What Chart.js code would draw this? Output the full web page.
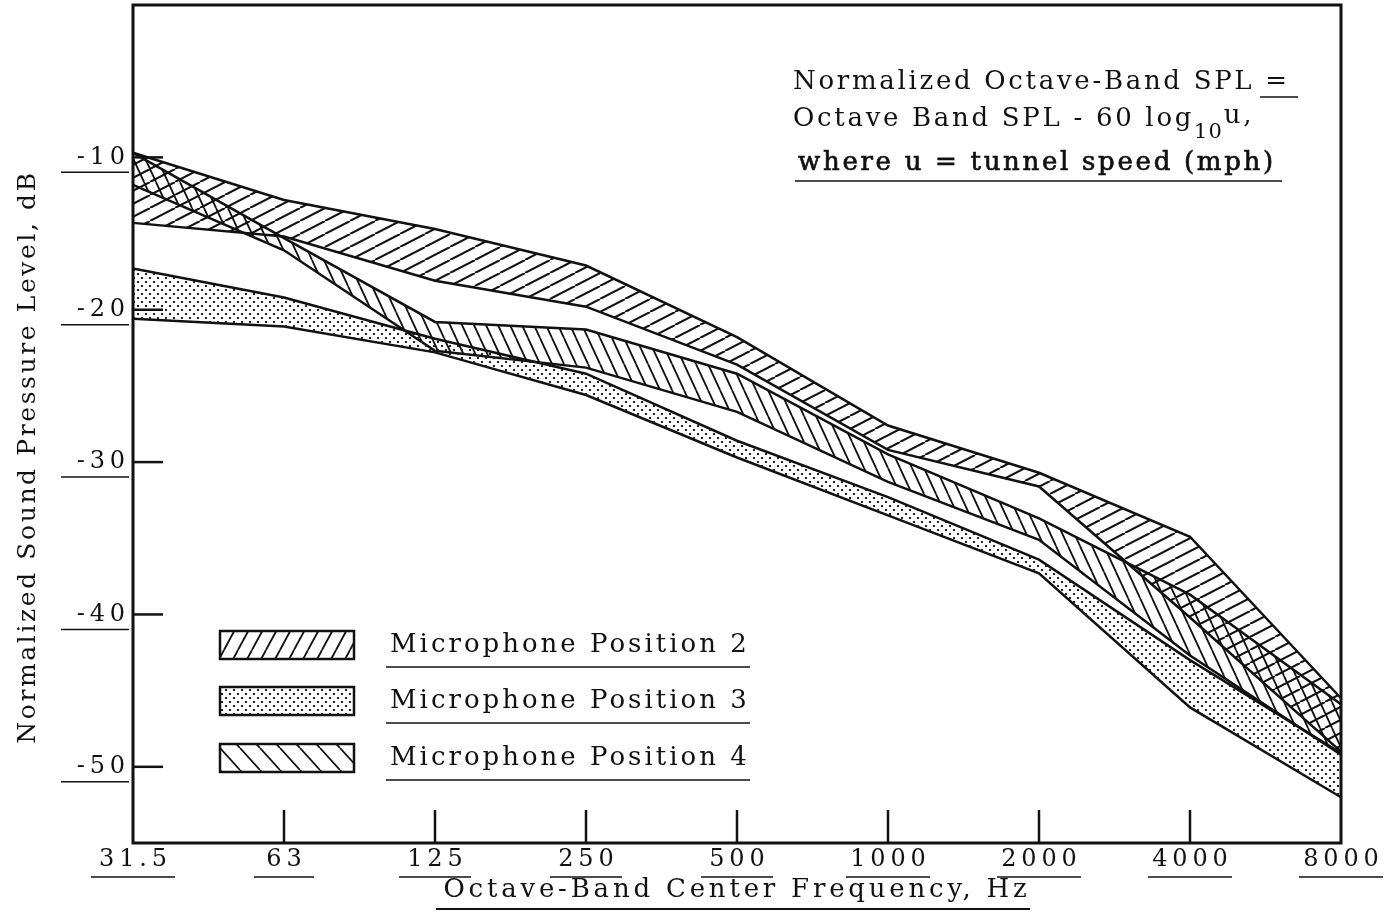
<!DOCTYPE html>
<html>
<head>
<meta charset="utf-8">
<script src="https://cdn.jsdelivr.net/npm/chart.js@4.4.1/dist/chart.umd.min.js"></script>
<style>
  html, body { margin: 0; padding: 0; background: #fff; }
  #wrap { width: 1386px; height: 918px; }
</style>
</head>
<body>
<div id="wrap"><canvas id="chart" width="1386" height="918"></canvas></div>
<script>
// octave band centre frequencies (Hz)
const freqLabels = ['31.5', '63', '125', '250', '500', '1000', '2000', '4000', '8000']
const yTickValues = [-10, -20, -30, -40, -50]

// band limits, normalized SPL in dB
const mic2Upper = [-9.7, -12.8, -14.7, -17.1, -21.8, -27.6, -30.7, -34.9, -45.5]
const mic2Lower = [-14.3, -15.2, -18.1, -19.8, -23.6, -29.2, -31.6, -40.2, -49.0]
const mic3Upper = [-17.3, -19.2, -21.9, -24.2, -28.6, -32.3, -36.4, -43.0, -49.1]
const mic3Lower = [-20.6, -21.1, -22.8, -25.6, -29.7, -33.5, -37.3, -46.1, -52.0]
const mic4Upper = [-9.7, -15.3, -20.8, -21.3, -24.2, -29.5, -33.7, -38.7, -45.9]
const mic4Lower = [-11.8, -16.1, -22.7, -23.8, -26.7, -31.3, -35.1, -42.7, -49.2]

const legendLabels = ['Microphone Position 2', 'Microphone Position 3', 'Microphone Position 4']

const INK = '#111'
const SERIF = "'DejaVu Serif', 'Liberation Serif', serif"

const canvas = document.getElementById('chart')
const ctx = canvas.getContext('2d')

// hatch tile: one diagonal line per tile, repeated
function hatchPattern(w, h, dir, lw) {
  const c = document.createElement('canvas')
  c.width = w
  c.height = h
  const g = c.getContext('2d')
  g.strokeStyle = INK
  g.lineWidth = lw
  g.beginPath()
  for (const dx of [-w, 0, w]) {
    if (dir === '/') {
      g.moveTo(dx, h)
      g.lineTo(dx + w, 0)
    } else {
      g.moveTo(dx, 0)
      g.lineTo(dx + w, h)
    }
  }
  g.stroke()
  return ctx.createPattern(c, 'repeat')
}

function dotPattern() {
  const c = document.createElement('canvas')
  c.width = 8
  c.height = 8
  const g = c.getContext('2d')
  g.fillStyle = '#222'
  g.fillRect(1, 1, 2, 2)
  g.fillRect(5, 5, 2, 2)
  return ctx.createPattern(c, 'repeat')
}

const pat2 = hatchPattern(25, 13, '/', 2)
const pat3 = dotPattern()
const pat4 = hatchPattern(12, 26, '\\', 1.8)
const legendPat2 = hatchPattern(14, 26, '/', 1.8)
const legendPat4 = hatchPattern(20, 22, '\\', 1.8)

function band(data, fill, pattern) {
  return {
    data,
    borderColor: INK,
    borderWidth: 2.5,
    backgroundColor: pattern || 'transparent',
    fill,
    pointRadius: 0,
    tension: 0,
  }
}

const datasets = [
  band(mic2Upper, '+1', pat2),
  band(mic2Lower, false),
  band(mic3Upper, '+1', pat3),
  band(mic3Lower, false),
  band(mic4Upper, '+1', pat4),
  band(mic4Lower, false),
]

function line(c, x1, y1, x2, y2) {
  c.beginPath()
  c.moveTo(x1, y1)
  c.lineTo(x2, y2)
  c.stroke()
}

function setSpacing(c, px) {
  if ('letterSpacing' in c) c.letterSpacing = px + 'px'
}

/**
 * Frame, inner tick marks and underlines under the tick labels.
 */
const framePlugin = {
  id: 'frame',
  afterDatasetsDraw(chart) {
    const { ctx: c, chartArea: { left, right, top, bottom }, scales: { x, y } } = chart
    c.save()
    c.strokeStyle = INK
    c.lineWidth = 3
    c.strokeRect(left, top, right - left, bottom - top)

    c.lineWidth = 2.5
    for (const v of yTickValues) {
      const py = y.getPixelForValue(v)
      line(c, left, py, left + 30, py)
      c.lineWidth = 1.5
      line(c, left - 72, py + 15, left - 4, py + 15)
      c.lineWidth = 2.5
    }
    for (let i = 1; i < freqLabels.length - 1; i++) {
      const px = x.getPixelForValue(i)
      line(c, px, bottom - 33, px, bottom)
    }
    c.lineWidth = 1.5
    for (let i = 0; i < freqLabels.length; i++) {
      const px = x.getPixelForValue(i)
      const half = 18 + freqLabels[i].length * 6
      line(c, px - half, bottom + 34, px + half, bottom + 34)
    }
    c.restore()
  },
}

/**
 * Axis titles, the formula note and the legend.
 */
const textPlugin = {
  id: 'texts',
  afterDraw(chart) {
    const c = chart.ctx
    const { left, right, bottom } = chart.chartArea
    c.save()
    c.fillStyle = INK
    c.strokeStyle = INK

    // y title
    c.font = `25px ${SERIF}`
    setSpacing(c, 2.6)
    c.textAlign = 'center'
    c.textBaseline = 'middle'
    c.save()
    c.translate(28, 457)
    c.rotate(-Math.PI / 2)
    c.fillText('Normalized Sound Pressure Level, dB', 0, 0)
    c.restore()

    // x title
    c.font = `26px ${SERIF}`
    setSpacing(c, 3.8)
    c.fillText('Octave-Band Center Frequency, Hz', (left + right) / 2, bottom + 47)
    c.lineWidth = 2
    line(c, 436, bottom + 66, 1030, bottom + 66)

    // formula note
    c.textAlign = 'left'
    c.textBaseline = 'alphabetic'
    c.font = `26px ${SERIF}`
    setSpacing(c, 2.7)
    c.fillText('Normalized Octave-Band SPL =', 793, 89)
    const part = 'Octave Band SPL - 60 log'
    c.fillText(part, 793, 126)
    let xp = 793 + c.measureText(part).width
    c.font = `21px ${SERIF}`
    setSpacing(c, 1)
    c.fillText('10', xp, 138)
    xp += c.measureText('10').width + 1
    c.font = `26px ${SERIF}`
    setSpacing(c, 2.7)
    c.fillText('u,', xp, 123)
    c.lineWidth = 0.7
    c.fillText('where u = tunnel speed (mph)', 798, 170)
    c.strokeText('where u = tunnel speed (mph)', 798, 170)
    c.lineWidth = 1.5
    line(c, 1260, 97, 1298, 97)
    line(c, 795, 181, 1282, 181)

    // legend
    const pats = [legendPat2, pat3, legendPat4]
    const rows = [645, 701, 758]
    c.font = `26px ${SERIF}`
    setSpacing(c, 3)
    c.textBaseline = 'middle'
    rows.forEach((cy, i) => {
      c.fillStyle = '#fff'
      c.fillRect(220, cy - 14, 134, 28)
      c.fillStyle = pats[i]
      c.fillRect(220, cy - 14, 134, 28)
      c.lineWidth = 2.5
      c.strokeRect(220, cy - 14, 134, 28)
      c.fillStyle = INK
      c.fillText(legendLabels[i], 390, cy)
      c.lineWidth = 1.5
      line(c, 386, cy + 22, 750, cy + 22)
    })
    c.restore()
  },
}

const spaced = s => s.split('').join('\u2009')

new Chart(canvas, {
  type: 'line',
  data: { labels: freqLabels, datasets },
  options: {
    responsive: false,
    animation: false,
    events: [],
    layout: { padding: { top: 5, right: 45, left: 0, bottom: 0 } },
    plugins: {
      legend: { display: false },
      tooltip: { enabled: false },
    },
    scales: {
      x: {
        type: 'category',
        offset: false,
        grid: { display: false, drawTicks: false },
        border: { display: false },
        ticks: {
          color: INK,
          font: { family: SERIF, size: 24 },
          padding: 2,
          maxRotation: 0,
          autoSkip: false,
          callback: (v, i) => spaced(freqLabels[i]),
        },
        afterFit: s => {
          s.height = 75
          s.paddingLeft = 0
          s.paddingRight = 0
        },
      },
      y: {
        min: -55,
        max: 0,
        grid: { display: false, drawTicks: false },
        border: { display: false },
        afterBuildTicks: s => { s.ticks = yTickValues.map(v => ({ value: v })) },
        ticks: {
          color: INK,
          font: { family: SERIF, size: 24 },
          padding: 8,
          callback: v => spaced(String(v)),
        },
        afterFit: s => {
          s.width = 133
          s.paddingTop = 0
          s.paddingBottom = 0
        },
      },
    },
  },
  plugins: [framePlugin, textPlugin],
})
</script>
</body>
</html>
